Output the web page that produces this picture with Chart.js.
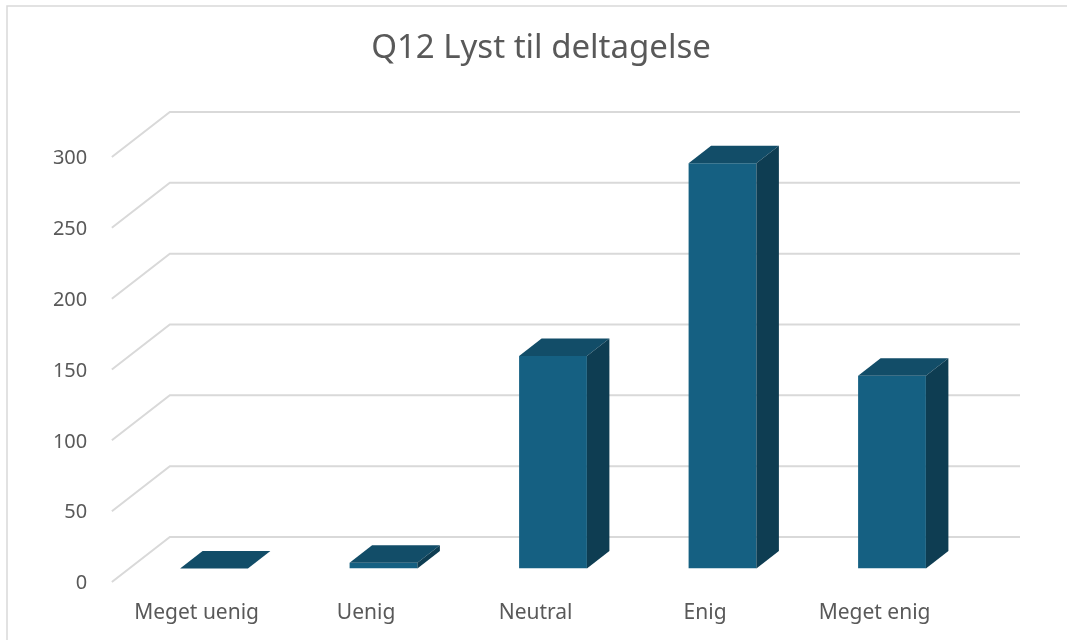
<!DOCTYPE html>
<html>
<head>
<meta charset="utf-8">
<script src="https://cdn.jsdelivr.net/npm/chart.js@4/dist/chart.umd.min.js"></script>
<style>
  html, body { margin: 0; padding: 0; background: #fff; }
  #wrap { width: 1067px; height: 640px; }
</style>
</head>
<body>
<div id="wrap"><canvas id="q12Chart"></canvas></div>
<script>
// Q12 Lyst til deltagelse - 3D søjlediagram

const categories = ['Meget uenig', 'Uenig', 'Neutral', 'Enig', 'Meget enig'];
const answers = [0, 4, 150, 286, 136];
const yTicks = [0, 50, 100, 150, 200, 250, 300];

const FONT = '"Noto Sans", "Open Sans", sans-serif';
const TEXT = '#595959';
const GRID = '#d9d9d9';

// dybde-forskydning for væg og søjler
const wall = { frontDx: -17.4, frontDy: 13.5, backDx: 40.6, backDy: -31.5, right: 1020 };
const depth = { dx: 22.5, dy: -17.5 };

// tegner gitter som baggrundsvæg
const wallPlugin = {
    id: 'wall',
    beforeDatasetsDraw(chart) {
        const ctx = chart.ctx;
        const y = chart.scales.y;
        const left = chart.chartArea.left;
        ctx.save();
        ctx.strokeStyle = GRID;
        ctx.lineWidth = 2;
        yTicks.forEach(v => {
            const p = y.getPixelForValue(v);
            ctx.beginPath();
            ctx.moveTo(left + wall.frontDx, p + wall.frontDy);
            ctx.lineTo(left + wall.backDx, p + wall.backDy);
            ctx.lineTo(wall.right, p + wall.backDy);
            ctx.stroke();
        });
        ctx.restore();
    },
    afterDatasetsDraw(chart) {
        const ctx = chart.ctx;
        const meta = chart.getDatasetMeta(0);
        ctx.save();
        meta.data.forEach(bar => {
            const { x, y, base, width } = bar.getProps(['x', 'y', 'base', 'width'], true);
            const l = x - width / 2, r = x + width / 2;
            // top
            ctx.fillStyle = '#124d68';
            ctx.beginPath();
            ctx.moveTo(l, y);
            ctx.lineTo(r, y);
            ctx.lineTo(r + depth.dx, y + depth.dy);
            ctx.lineTo(l + depth.dx, y + depth.dy);
            ctx.closePath();
            ctx.fill();
            // side
            ctx.fillStyle = '#0e3d52';
            ctx.beginPath();
            ctx.moveTo(r, y);
            ctx.lineTo(r + depth.dx, y + depth.dy);
            ctx.lineTo(r + depth.dx, base + depth.dy);
            ctx.lineTo(r, base);
            ctx.closePath();
            ctx.fill();
        });
        ctx.restore();
    },
    afterDraw(chart) {
        const ctx = chart.ctx;
        ctx.save();
        // ramme
        ctx.strokeStyle = GRID;
        ctx.lineWidth = 1.5;
        ctx.beginPath();
        ctx.moveTo(7, 640);
        ctx.lineTo(7, 6);
        ctx.lineTo(1067, 6);
        ctx.stroke();
        // titel
        ctx.fillStyle = TEXT;
        ctx.font = '33px ' + FONT;
        ctx.textAlign = 'center';
        ctx.textBaseline = 'middle';
        ctx.fillText('Q12 Lyst til deltagelse', 541, 49);
        ctx.restore();
    }
};

new Chart(document.getElementById('q12Chart'), {
    type: 'bar',
    data: {
        labels: categories,
        datasets: [{
            data: answers,
            backgroundColor: '#156082',
            barPercentage: 0.4,
            categoryPercentage: 1
        }]
    },
    options: {
        responsive: true,
        maintainAspectRatio: false,
        animation: false,
        layout: { padding: { top: 143.5, right: 90.25, left: 0, bottom: 0 } },
        plugins: {
            legend: { display: false },
            title: { display: false },
            tooltip: { enabled: false }
        },
        scales: {
            x: {
                grid: { display: false },
                border: { display: false },
                ticks: {
                    color: TEXT,
                    font: { family: FONT, size: 21 },
                    padding: 24,
                    labelOffset: -17.4
                },
                afterFit(s) { s.height = 71.5; }
            },
            y: {
                min: 0,
                max: 300,
                grid: { display: false },
                border: { display: false },
                ticks: {
                    stepSize: 50,
                    color: TEXT,
                    font: { family: FONT, size: 20 },
                    padding: 34,
                    labelOffset: 15
                },
                afterFit(s) { s.width = 129.25; }
            }
        }
    },
    plugins: [wallPlugin]
});
</script>
</body>
</html>
